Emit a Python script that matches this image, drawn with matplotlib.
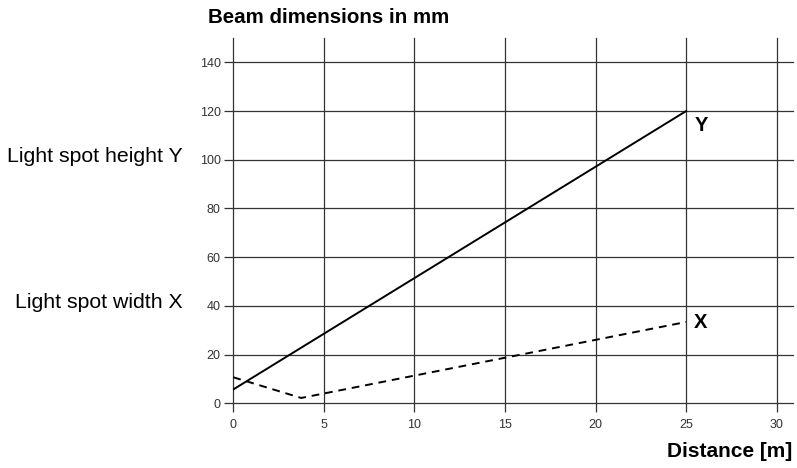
import numpy as np
import matplotlib
matplotlib.use("Agg")
import matplotlib.pyplot as plt

plt.rcParams['font.family'] = ['Liberation Sans', 'DejaVu Sans']

# Datos
distancia_y = [0, 25]
altura_y = [5.7, 120]
distancia_x = [0, 3.75, 25]
anchura_x = [10.7, 2.2, 33.4]

ticks_x = [0, 5, 10, 15, 20, 25, 30]
ticks_y = [0, 20, 40, 60, 80, 100, 120, 140]

fig = plt.figure(figsize=(7.97, 4.68), dpi=100)
ax = fig.add_axes([0.2927, 0.1382, 0.7023, 0.7806])

ax.plot(distancia_y, altura_y, '-', color='black', linewidth=1.4, zorder=3)
ax.plot(distancia_x, anchura_x, '--', color='black', linewidth=1.4,
        dashes=(4, 3), zorder=3)

ax.set_xlim(0, 30.9)
ax.set_ylim(0, 150)
ax.set_xticks(ticks_x)
ax.set_yticks(ticks_y)

for s in ax.spines.values():
    s.set_visible(False)

ax.grid(True, color='#333333', linewidth=0.9)
for linea in ax.get_xgridlines() + ax.get_ygridlines():
    linea.set_clip_on(False)
ax.tick_params(axis='both', direction='out', length=6.5, width=0.9,
               color='#333333', labelcolor='#333333', labelsize=9, pad=2.5)
ax.tick_params(axis='x', pad=4.5)

# Etiquetas de las lineas
ax.text(25.45, 114, 'Y', fontsize=14.5, fontweight='bold', va='center', ha='left')
ax.text(25.45, 33.3, 'X', fontsize=14.5, fontweight='bold', va='center', ha='left')

fig.text(208 / 797, 1 - 23 / 468, 'Beam dimensions in mm', fontsize=14.8,
         fontweight='bold', ha='left', va='baseline')
fig.text(792 / 797, 1 - 457 / 468, 'Distance [m]', fontsize=15,
         fontweight='bold', ha='right', va='baseline')
fig.text(183 / 797, 1 - 162 / 468, 'Light spot height Y', fontsize=15.3,
         ha='right', va='baseline')
fig.text(183 / 797, 1 - 308 / 468, 'Light spot width X', fontsize=15.3,
         ha='right', va='baseline')

fig.savefig('out.png', dpi=100)
